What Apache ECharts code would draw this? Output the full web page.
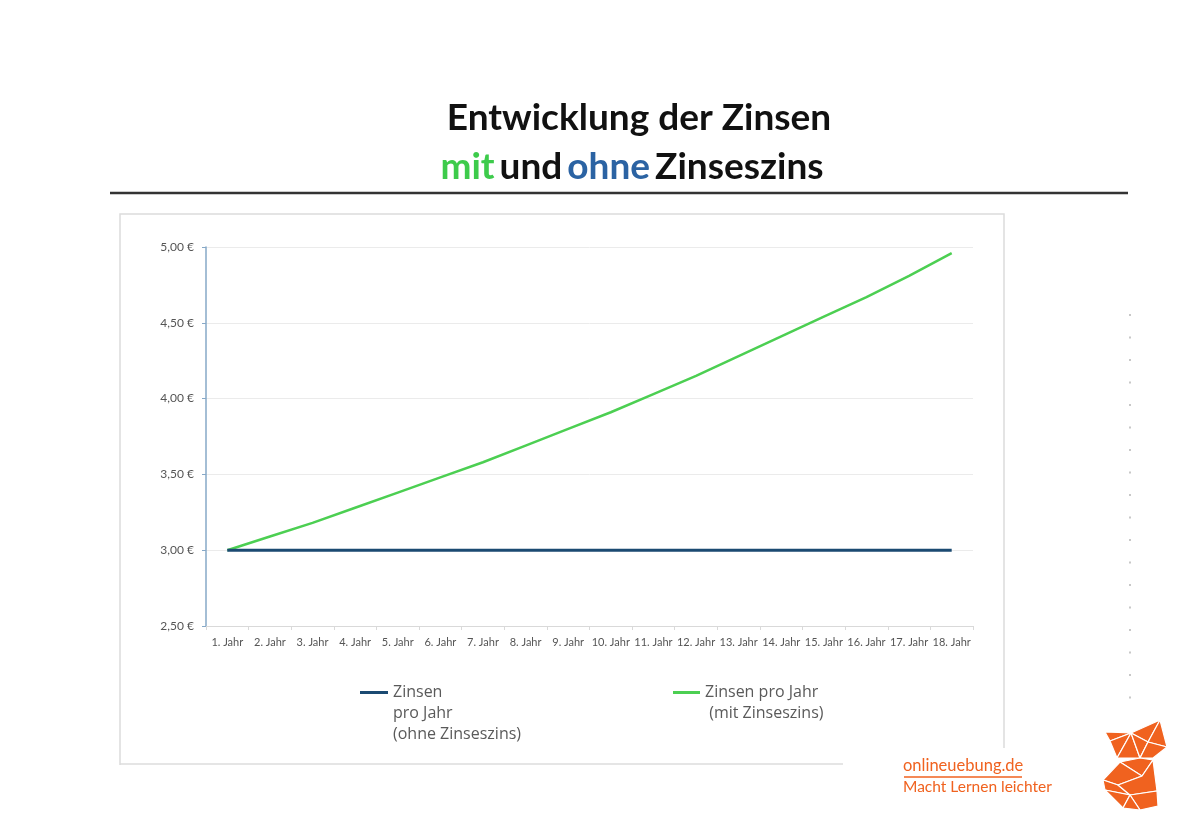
<!DOCTYPE html>
<html>
<head>
<meta charset="utf-8">
<script src="https://cdn.jsdelivr.net/npm/echarts@6/dist/echarts.min.js"></script>
<style>html,body{margin:0;padding:0;background:#fff}#c{width:1200px;height:831px}</style>
</head>
<body>
<div id="c"></div>
<script>
const categories = ['1. Jahr','2. Jahr','3. Jahr','4. Jahr','5. Jahr','6. Jahr','7. Jahr','8. Jahr','9. Jahr','10. Jahr','11. Jahr','12. Jahr','13. Jahr','14. Jahr','15. Jahr','16. Jahr','17. Jahr','18. Jahr'];
const ohneZinseszins = [3.00,3.00,3.00,3.00,3.00,3.00,3.00,3.00,3.00,3.00,3.00,3.00,3.00,3.00,3.00,3.00,3.00,3.00];
const mitZinseszins = [3.00,3.09,3.18,3.28,3.38,3.48,3.58,3.69,3.80,3.91,4.03,4.15,4.28,4.41,4.54,4.67,4.81,4.96];
const yTicks = {min: 2.5, max: 5, interval: 0.5};

const chart = echarts.init(document.getElementById('c'));
const orange = '#f0621f';
const foxPolys = [
  [[1105,732],[1131,733],[1110,741]],
  [[1110,741],[1131,733],[1117,758]],
  [[1131,733],[1117,758],[1140,758]],
  [[1131,733],[1160,720],[1148,742]],
  [[1131,733],[1148,742],[1140,758]],
  [[1148,742],[1160,720],[1167,747]],
  [[1148,742],[1167,747],[1153,758],[1140,758]],
  [[1120,762],[1140,758],[1153,760],[1142,776]],
  [[1103,780],[1120,762],[1142,776],[1118,785]],
  [[1105,790],[1103,780],[1118,785],[1130,795]],
  [[1118,785],[1142,776],[1153,760],[1157,791],[1130,795]],
  [[1105,790],[1130,795],[1123,808]],
  [[1130,795],[1157,791],[1158,806],[1140,810]],
  [[1130,795],[1140,810],[1123,808]]
];
const graphics = [
  {type:'line', shape:{x1:110,y1:193,x2:1128,y2:193}, style:{stroke:'#333',lineWidth:2.5}},
  {type:'polyline', shape:{points:[[120,765],[120,214],[1004,214],[1004,748]]}, style:{stroke:'#dcdcdc',lineWidth:1.5,fill:null}},
  {type:'line', shape:{x1:120,y1:764,x2:843,y2:764}, style:{stroke:'#dcdcdc',lineWidth:1.5}},
  {type:'line', shape:{x1:1130,y1:314,x2:1130,y2:700}, style:{stroke:'#c8c8c8',lineWidth:2,lineDash:[2,20.5]}},
  {type:'text', left:903, top:757, style:{text:'onlineuebung.de', fill:orange, font:'16.5px Lato'}},
  {type:'line', shape:{x1:904,y1:777,x2:1022,y2:777}, style:{stroke:orange,lineWidth:1.3}},
  {type:'text', left:903, top:779, style:{text:'Macht Lernen leichter', fill:orange, font:'15.5px Lato'}}
];
foxPolys.forEach(p => graphics.push({type:'polygon', shape:{points:p}, style:{fill:orange, stroke:'#fff', lineWidth:1.2}}));

const rt = c => ({fontFamily:'Lato', fontWeight:'bold', fontSize:37, color:c, lineHeight:49});
chart.setOption({
  backgroundColor:'#fff',
  animation:false,
  title:[
    {left:634, top:89, textAlign:'center', text:'{a|Entwicklung der Zinsen}',
     textStyle:{rich:{a:rt('#111')}}},
    {left:627, top:138, textAlign:'center', text:'{g|mit} {k|und} {b|ohne} {k|Zinseszins}',
     textStyle:{rich:{g:rt('#3dcb4b'), k:rt('#111'), b:rt('#2b63a3')}}}
  ],
  grid:{left:206, right:227, top:247, bottom:205, containLabel:false},
  legend:[
    {data:['ohne'], left:360, top:640, padding:0, icon:'rect', itemWidth:28, itemHeight:3,
     formatter:()=> '\n\nZinsen\npro Jahr\n(ohne Zinseszins)',
     textStyle:{fontFamily:'Open Sans', fontSize:16, color:'#5a5a5a', lineHeight:21}},
    {data:['mit'], left:673, top:661, padding:0, icon:'rect', itemWidth:27, itemHeight:3,
     formatter:()=> '\nZinsen pro Jahr\n (mit Zinseszins)',
     textStyle:{fontFamily:'Open Sans', fontSize:16, color:'#5a5a5a', lineHeight:21}}
  ],
  xAxis:{
    type:'category', data:categories, boundaryGap:true,
    axisLine:{lineStyle:{color:'#d9d9d9', width:1}},
    axisTick:{show:true, length:4, lineStyle:{color:'#d9d9d9'}},
    axisLabel:{interval:0, fontFamily:'Lato', fontSize:11, color:'#555', margin:11}
  },
  yAxis:{
    type:'value', min:yTicks.min, max:yTicks.max, interval:yTicks.interval,
    axisLine:{show:true, lineStyle:{color:'#86a8c7', width:1.5}},
    axisTick:{show:true, length:4, lineStyle:{color:'#86a8c7'}},
    splitLine:{lineStyle:{color:'#ebebeb'}},
    axisLabel:{fontFamily:'Lato', fontSize:12, color:'#555', margin:12,
      formatter:v=> v.toFixed(2).replace('.',',')+' €'}
  },
  series:[
    {name:'mit', type:'line', data:mitZinseszins, symbol:'none', lineStyle:{color:'#4ccf52', width:2.5}, itemStyle:{color:'#4ccf52'}},
    {name:'ohne', type:'line', data:ohneZinseszins, symbol:'none', lineStyle:{color:'#1b4a72', width:3}, itemStyle:{color:'#1b4a72'}}
  ],
  graphic:graphics
});
</script>
</body>
</html>
